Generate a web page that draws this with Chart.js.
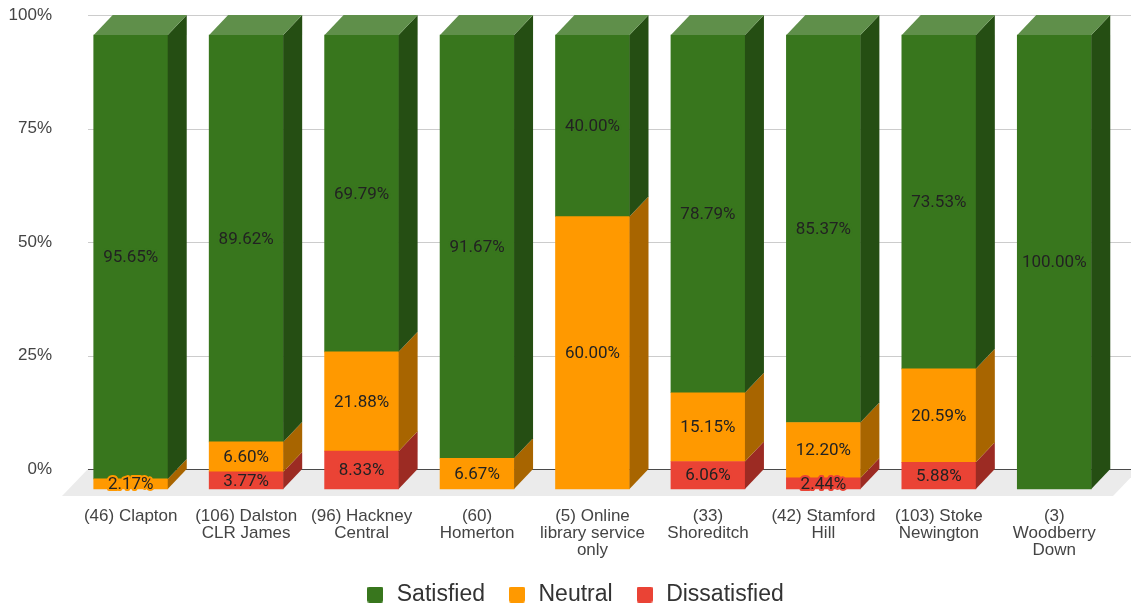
<!DOCTYPE html>
<html>
<head>
<meta charset="utf-8">
<script src="https://cdn.jsdelivr.net/npm/chart.js@4/dist/chart.umd.min.js"></script>
<style>
  html, body { margin: 0; padding: 0; background: #ffffff; }
  #wrap { width: 1131px; height: 606px; }
</style>
</head>
<body>
<div id="wrap"><canvas id="c" width="1131" height="606"></canvas></div>
<script>
// Library satisfaction by branch (share of respondents, %)
const categories = [
  ['(46) Clapton'],
  ['(106) Dalston', 'CLR James'],
  ['(96) Hackney', 'Central'],
  ['(60)', 'Homerton'],
  ['(5) Online', 'library service', 'only'],
  ['(33)', 'Shoreditch'],
  ['(42) Stamford', 'Hill'],
  ['(103) Stoke', 'Newington'],
  ['(3)', 'Woodberry', 'Down']
];
const satisfied    = [95.65, 89.62, 69.79, 91.67, 40.00, 78.79, 85.37, 73.53, 100.00];
const neutral      = [2.17, 6.60, 21.88, 6.67, 60.00, 15.15, 12.20, 20.59, null];
const dissatisfied = [null, 3.77, 8.33, null, null, 6.06, 2.44, 5.88, null];
const yTickValues  = [0, 25, 50, 75, 100];

// Face colours: front, side (shadow), top (highlight)
const palette = {
  Satisfied:    { front: '#38761d', side: '#254e13', top: '#5f8f4a' },
  Neutral:      { front: '#ff9900', side: '#a86500', top: '#ffb84d' },
  Dissatisfied: { front: '#ea4335', side: '#9c2b23', top: '#f07a70' }
};

// Stack order bottom -> top
const series = [
  { name: 'Dissatisfied', values: dissatisfied },
  { name: 'Neutral',      values: neutral },
  { name: 'Satisfied',    values: satisfied }
];

// 100% stacking: each column is scaled to its own total
const totals = categories.map((_, i) =>
  series.reduce((s, d) => s + (d.values[i] || 0), 0));
const asShare = (vals) => vals.map((v, i) => v == null ? null : v / totals[i] * 100);

// Extrusion of the 3D columns and floor
const DX = 19, DY = 20;
const FLOOR_DX = 26, FLOOR_DY = 27;
const LEGEND_SHIFT = 9;

function swatch(color) {
  const c = document.createElement('canvas');
  c.width = 16; c.height = 16;
  const g = c.getContext('2d');
  g.fillStyle = color;
  g.beginPath();
  if (g.roundRect) g.roundRect(0, 0, 16, 16, 2); else g.rect(0, 0, 16, 16);
  g.fill();
  return c;
}

const threeD = {
  id: 'threeD',
  afterLayout(chart) {
    // nudge the centred legend row slightly to the right
    chart.legend.left += LEGEND_SHIFT;
    chart.legend.right += LEGEND_SHIFT;
  },
  beforeDatasetsDraw(chart) {
    const { ctx, chartArea } = chart;
    const y = chart.scales.y;
    const left = chartArea.left - 4;
    const backRight = chartArea.right + 8;
    ctx.save();
    // back-wall gridlines
    ctx.strokeStyle = '#cccccc';
    ctx.lineWidth = 1;
    yTickValues.forEach(v => {
      if (v === 0) return;
      const py = Math.round(y.getPixelForValue(v)) + 0.5;
      ctx.beginPath(); ctx.moveTo(left, py); ctx.lineTo(chart.width, py); ctx.stroke();
    });
    // floor
    const y0 = Math.round(y.getPixelForValue(0));
    ctx.fillStyle = '#ebebeb';
    ctx.beginPath();
    ctx.moveTo(left, y0);
    ctx.lineTo(backRight, y0);
    ctx.lineTo(backRight - FLOOR_DX, y0 + FLOOR_DY);
    ctx.lineTo(left - FLOOR_DX, y0 + FLOOR_DY);
    ctx.closePath();
    ctx.fill();
    // baseline
    ctx.strokeStyle = '#4a4a4a';
    ctx.lineWidth = 1.2;
    ctx.beginPath(); ctx.moveTo(left, y0 + 0.5); ctx.lineTo(chart.width, y0 + 0.5); ctx.stroke();
    ctx.restore();
    // columns are drawn on the front plane
    ctx.save();
    ctx.translate(-DX, DY);
  },
  afterDatasetsDraw(chart) {
    const ctx = chart.ctx;
    const metas = chart.data.datasets.map((_, di) => chart.getDatasetMeta(di));
    categories.forEach((_, i) => {
      let top = null;
      metas.forEach((meta, di) => {
        const raw = series[di].values[i];
        if (!raw) return;
        const el = meta.data[i];
        const p = el.getProps(['x', 'y', 'base', 'width'], true);
        const x1 = p.x + p.width / 2;
        const col = palette[series[di].name];
        ctx.fillStyle = col.side;
        ctx.beginPath();
        ctx.moveTo(x1, p.y);
        ctx.lineTo(x1 + DX, p.y - DY);
        ctx.lineTo(x1 + DX, p.base - DY);
        ctx.lineTo(x1, p.base);
        ctx.closePath();
        ctx.fill();
        top = { p, col };
      });
      if (top) {
        const { p, col } = top;
        const x0 = p.x - p.width / 2, x1 = p.x + p.width / 2;
        ctx.fillStyle = col.top;
        ctx.beginPath();
        ctx.moveTo(x0, p.y);
        ctx.lineTo(x0 + DX, p.y - DY);
        ctx.lineTo(x1 + DX, p.y - DY);
        ctx.lineTo(x1, p.y);
        ctx.closePath();
        ctx.fill();
      }
    });
    // value labels on the front faces
    ctx.font = '17px Roboto, "Liberation Sans", sans-serif';
    ctx.textAlign = 'center';
    ctx.textBaseline = 'middle';
    ctx.lineJoin = 'round';
    metas.forEach((meta, di) => {
      const col = palette[series[di].name];
      series[di].values.forEach((raw, i) => {
        if (!raw) return;
        const p = meta.data[i].getProps(['x', 'y', 'base'], true);
        const ty = (p.y + p.base) / 2 + 1;
        const txt = raw.toFixed(2) + '%';
        ctx.strokeStyle = col.front;
        ctx.lineWidth = 4;
        ctx.strokeText(txt, p.x, ty);
        ctx.fillStyle = '#222222';
        ctx.fillText(txt, p.x, ty);
      });
    });
    ctx.restore();
  }
};

Chart.defaults.font.family = '"Liberation Sans", Arial, sans-serif';

new Chart(document.getElementById('c'), {
  type: 'bar',
  data: {
    labels: categories,
    datasets: series.map(s => ({
      label: s.name,
      data: asShare(s.values),
      backgroundColor: palette[s.name].front,
      borderWidth: 0,
      barThickness: 74,
      clip: false,
      stack: 'all'
    }))
  },
  options: {
    responsive: false,
    animation: false,
    devicePixelRatio: 1,
    events: [],
    layout: { padding: { top: 15, left: 0, right: 0, bottom: -10 } },
    scales: {
      x: {
        stacked: true,
        grid: { display: false, drawTicks: false },
        border: { display: false },
        ticks: {
          color: '#444444',
          font: { size: 17, lineHeight: 1.0 },
          padding: 39,
          labelOffset: -DX,
          maxRotation: 0,
          autoSkip: false
        },
        afterFit(scale) {
          scale.height = 92;
          scale.paddingLeft = 0;
          scale.paddingRight = 0;
        }
      },
      y: {
        stacked: true,
        min: 0,
        max: 100,
        grid: { display: false, drawTicks: false },
        border: { display: false },
        afterBuildTicks(scale) { scale.ticks = yTickValues.map(v => ({ value: v })); },
        ticks: {
          color: '#444444',
          font: { size: 17 },
          padding: 40,
          callback: v => v + '%'
        },
        afterFit(scale) {
          scale.width = 92;
          scale.paddingTop = 0;
          scale.paddingBottom = 0;
        }
      }
    },
    plugins: {
      tooltip: { enabled: false },
      legend: {
        position: 'bottom',
        reverse: true,
        labels: {
          color: '#333333',
          font: { size: 23 },
          usePointStyle: true,
          pointStyleWidth: 20,
          padding: 22,
          generateLabels(chart) {
            const items = Chart.defaults.plugins.legend.labels.generateLabels(chart);
            items.forEach(it => { it.pointStyle = swatch(palette[it.text].front); });
            return items;
          }
        }
      }
    }
  },
  plugins: [threeD]
});
</script>
</body>
</html>
